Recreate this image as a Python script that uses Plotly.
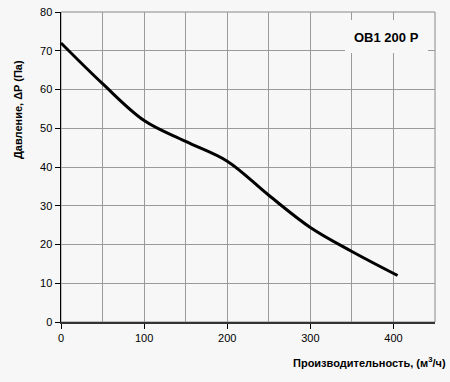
import plotly.graph_objects as go

flow = [0, 50, 100, 150, 200, 250, 300, 350, 405]
pressure = [72, 61.5, 52, 46.6, 41.5, 32.7, 24.4, 18.2, 12]

x_ticks = [0, 100, 200, 300, 400]
y_ticks = [0, 10, 20, 30, 40, 50, 60, 70, 80]
model_label = "OB1 200 P"
x_title = "Производительность, (м<sup>3</sup>/ч)"
y_title = "Давление, ΔP (Па)"

BG = "#f7f7f7"
GRID = "#9a9a9a"
FONT = "Liberation Sans, Arial, sans-serif"

fig = go.Figure()
fig.add_trace(go.Scatter(
    x=flow, y=pressure, mode="lines",
    line=dict(color="black", width=3, shape="spline", smoothing=1.0),
    hoverinfo="skip", showlegend=False,
))

fig.update_layout(
    width=450, height=382,
    margin=dict(l=61, r=15, t=12, b=60, autoexpand=False),
    paper_bgcolor=BG, plot_bgcolor=BG,
    font=dict(family=FONT, size=11, color="black"),
    showlegend=False,
    hovermode=False,
    xaxis=dict(
        range=[0, 450], tickvals=x_ticks, ticks="outside", ticklen=5,
        tickcolor="black", showgrid=True, gridcolor=GRID, gridwidth=1,
        minor=dict(dtick=50, tick0=0, showgrid=True, gridcolor=GRID, gridwidth=1, ticks=""),
        showline=True, linecolor="#333333", linewidth=1.5, zeroline=False,
        tickfont=dict(size=11, family=FONT, color="black"), automargin=False,
    ),
    yaxis=dict(
        range=[0, 80], tickvals=y_ticks, ticks="outside", ticklen=5,
        tickcolor="black", showgrid=True, gridcolor=GRID, gridwidth=1,
        showline=True, linecolor="black", linewidth=1.5, zeroline=False,
        tickfont=dict(size=11, family=FONT, color="black"), automargin=False,
    ),
    shapes=[
        dict(type="rect", xref="paper", yref="paper", x0=0, x1=1, y0=0, y1=1,
             line=dict(color="#888888", width=1), fillcolor="rgba(0,0,0,0)", layer="below"),
        dict(type="rect", xref="paper", yref="paper",
             x0=(345 - 61) / 374, x1=(428 - 61) / 374,
             y0=(322 - 53) / 310, y1=(322 - 20) / 310,
             line=dict(width=0), fillcolor=BG, layer="above"),
    ],
    annotations=[
        dict(text="<b>" + model_label + "</b>", xref="paper", yref="paper",
             x=(386 - 61) / 374, y=(322 - 37) / 310, showarrow=False,
             font=dict(size=13, family=FONT, color="black"), xanchor="center", yanchor="middle"),
        dict(text="<b>" + x_title + "</b>", xref="paper", yref="paper",
             x=(448 - 61) / 374, y=-(362 - 322) / 310, showarrow=False,
             xanchor="right", yanchor="middle", font=dict(size=11, family=FONT)),
        dict(text="<b>" + y_title + "</b>", xref="paper", yref="paper",
             x=-(61 - 18) / 374, y=(322 - 110) / 310, showarrow=False, textangle=-90,
             xanchor="center", yanchor="middle", font=dict(size=11, family=FONT)),
    ],
)

fig.write_html(
    "out.html",
    config={"displayModeBar": False, "staticPlot": True},
    post_script="document.body.style.margin='0';document.body.style.overflow='hidden';",
)
